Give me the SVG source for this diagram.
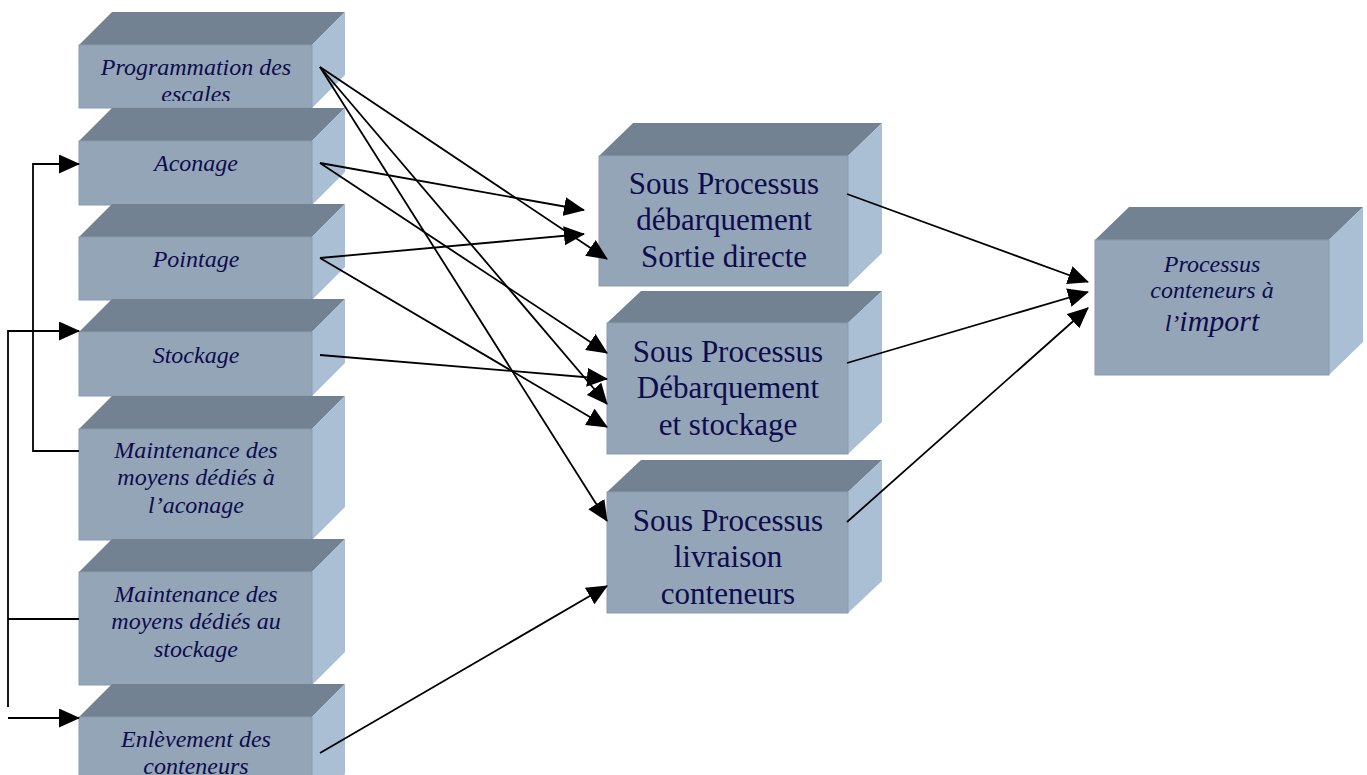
<svg xmlns="http://www.w3.org/2000/svg" width="1367" height="775" viewBox="0 0 1367 775">
  <style>
    .top { fill: #728292; }
    .front { fill: #94a5b7; stroke: #8a9bae; stroke-width: 1; }
    .side { fill: #aabfd4; }
    .lbl { font-family: "Liberation Serif", "Times New Roman", serif; fill: #0c0c4e; text-anchor: middle; }
    .sm { font-size: 24px; font-style: italic; }
    .lg { font-size: 31px; }
    .link { fill: none; stroke: #000; stroke-width: 1.8; }
  </style>
  <defs>
    <marker id="head" markerUnits="userSpaceOnUse" markerWidth="21" markerHeight="19" viewBox="0 0 21 19" refX="20" refY="9.5" orient="auto">
      <path d="M0,0 L21,9.5 L0,19 Z" fill="#000"/>
    </marker>
    <clipPath id="clipProg">
      <rect x="79" y="45" width="233" height="56"/>
    </clipPath>
  </defs>
  <rect width="1367" height="775" fill="#ffffff"/>

  <!-- left column of activities -->
  <g id="programmation">
    <polygon class="top" points="79,45 112,12 345,12 312,45"/>
    <polygon class="side" points="312,45 345,12 345,75 312,108"/>
    <rect class="front" x="79" y="45" width="233" height="63"/>
    <g clip-path="url(#clipProg)">
      <text class="lbl sm" x="196" y="75">Programmation des</text>
      <text class="lbl sm" x="196" y="102">escales</text>
    </g>
  </g>
  <g id="aconage">
    <polygon class="top" points="79,141 112,108 345,108 312,141"/>
    <polygon class="side" points="312,141 345,108 345,172 312,205"/>
    <rect class="front" x="79" y="141" width="233" height="64"/>
    <text class="lbl sm" x="196" y="171">Aconage</text>
  </g>
  <g id="pointage">
    <polygon class="top" points="79,237 112,204 345,204 312,237"/>
    <polygon class="side" points="312,237 345,204 345,267 312,300"/>
    <rect class="front" x="79" y="237" width="233" height="63"/>
    <text class="lbl sm" x="196" y="267">Pointage</text>
  </g>
  <g id="stockage">
    <polygon class="top" points="79,332 112,299 345,299 312,332"/>
    <polygon class="side" points="312,332 345,299 345,363 312,396"/>
    <rect class="front" x="79" y="332" width="233" height="64"/>
    <text class="lbl sm" x="196" y="363">Stockage</text>
  </g>
  <g id="maintenance-aconage">
    <polygon class="top" points="79,429 112,396 345,396 312,429"/>
    <polygon class="side" points="312,429 345,396 345,507 312,540"/>
    <rect class="front" x="79" y="429" width="233" height="111"/>
    <text class="lbl sm" x="196" y="458">Maintenance des</text>
    <text class="lbl sm" x="196" y="485">moyens dédiés à</text>
    <text class="lbl sm" x="196" y="513">l’aconage</text>
  </g>
  <g id="maintenance-stockage">
    <polygon class="top" points="79,572 112,539 345,539 312,572"/>
    <polygon class="side" points="312,572 345,539 345,652 312,685"/>
    <rect class="front" x="79" y="572" width="233" height="113"/>
    <text class="lbl sm" x="196" y="602">Maintenance des</text>
    <text class="lbl sm" x="196" y="629">moyens dédiés au</text>
    <text class="lbl sm" x="196" y="657">stockage</text>
  </g>
  <g id="enlevement">
    <polygon class="top" points="79,717 112,684 345,684 312,717"/>
    <polygon class="side" points="312,717 345,684 345,774 312,807"/>
    <rect class="front" x="79" y="717" width="233" height="90"/>
    <text class="lbl sm" x="196" y="747">Enlèvement des</text>
    <text class="lbl sm" x="196" y="774">conteneurs</text>
  </g>

  <!-- sub-processes -->
  <g id="sp-sortie-directe">
    <polygon class="top" points="599,156 633,123 882,123 848,156"/>
    <polygon class="side" points="848,156 882,123 882,253 848,286"/>
    <rect class="front" x="599" y="156" width="249" height="130"/>
    <text class="lbl lg" x="724" y="194">Sous Processus</text>
    <text class="lbl lg" x="724" y="230">débarquement</text>
    <text class="lbl lg" x="724" y="267">Sortie directe</text>
  </g>
  <g id="sp-stockage">
    <polygon class="top" points="607,323 641,291 882,291 848,323"/>
    <polygon class="side" points="848,323 882,291 882,422 848,454"/>
    <rect class="front" x="607" y="323" width="241" height="131"/>
    <text class="lbl lg" x="728" y="362">Sous Processus</text>
    <text class="lbl lg" x="728" y="398">Débarquement</text>
    <text class="lbl lg" x="728" y="435">et stockage</text>
  </g>
  <g id="sp-livraison">
    <polygon class="top" points="607,492 641,460 882,460 848,492"/>
    <polygon class="side" points="848,492 882,460 882,581 848,613"/>
    <rect class="front" x="607" y="492" width="241" height="121"/>
    <text class="lbl lg" x="728" y="531">Sous Processus</text>
    <text class="lbl lg" x="728" y="567">livraison</text>
    <text class="lbl lg" x="728" y="604">conteneurs</text>
  </g>

  <!-- main process -->
  <g id="processus-import">
    <polygon class="top" points="1095,240 1129,207 1363,207 1329,240"/>
    <polygon class="side" points="1329,240 1363,207 1363,342 1329,375"/>
    <rect class="front" x="1095" y="240" width="234" height="135"/>
    <text class="lbl sm" x="1212" y="272">Processus</text>
    <text class="lbl sm" x="1212" y="298">conteneurs à</text>
    <text class="lbl sm" x="1212" y="331">l’<tspan font-size="30">import</tspan></text>
  </g>

  <!-- connectors -->
  <g id="connectors">
    <line class="link" x1="320" y1="67" x2="607" y2="259" marker-end="url(#head)"/>
    <line class="link" x1="320" y1="67" x2="607" y2="404" marker-end="url(#head)"/>
    <line class="link" x1="320" y1="67" x2="607" y2="521" marker-end="url(#head)"/>
    <line class="link" x1="320" y1="163" x2="584" y2="210" marker-end="url(#head)"/>
    <line class="link" x1="320" y1="163" x2="607" y2="353" marker-end="url(#head)"/>
    <line class="link" x1="320" y1="258" x2="584" y2="234" marker-end="url(#head)"/>
    <line class="link" x1="320" y1="258" x2="607" y2="427" marker-end="url(#head)"/>
    <line class="link" x1="320" y1="355" x2="607" y2="379" marker-end="url(#head)"/>
    <line class="link" x1="320" y1="753" x2="607" y2="586" marker-end="url(#head)"/>
    <line class="link" x1="847" y1="194" x2="1088" y2="282" marker-end="url(#head)"/>
    <line class="link" x1="847" y1="363" x2="1088" y2="292" marker-end="url(#head)"/>
    <line class="link" x1="847" y1="522" x2="1088" y2="308" marker-end="url(#head)"/>
    <polyline class="link" points="79,451 33,451 33,164 79,164" marker-end="url(#head)"/>
    <polyline class="link" points="8,707 8,331 79,331" marker-end="url(#head)"/>
    <line class="link" x1="79" y1="619" x2="8" y2="619"/>
    <line class="link" x1="8" y1="718" x2="79" y2="718" marker-end="url(#head)"/>
  </g>
</svg>
